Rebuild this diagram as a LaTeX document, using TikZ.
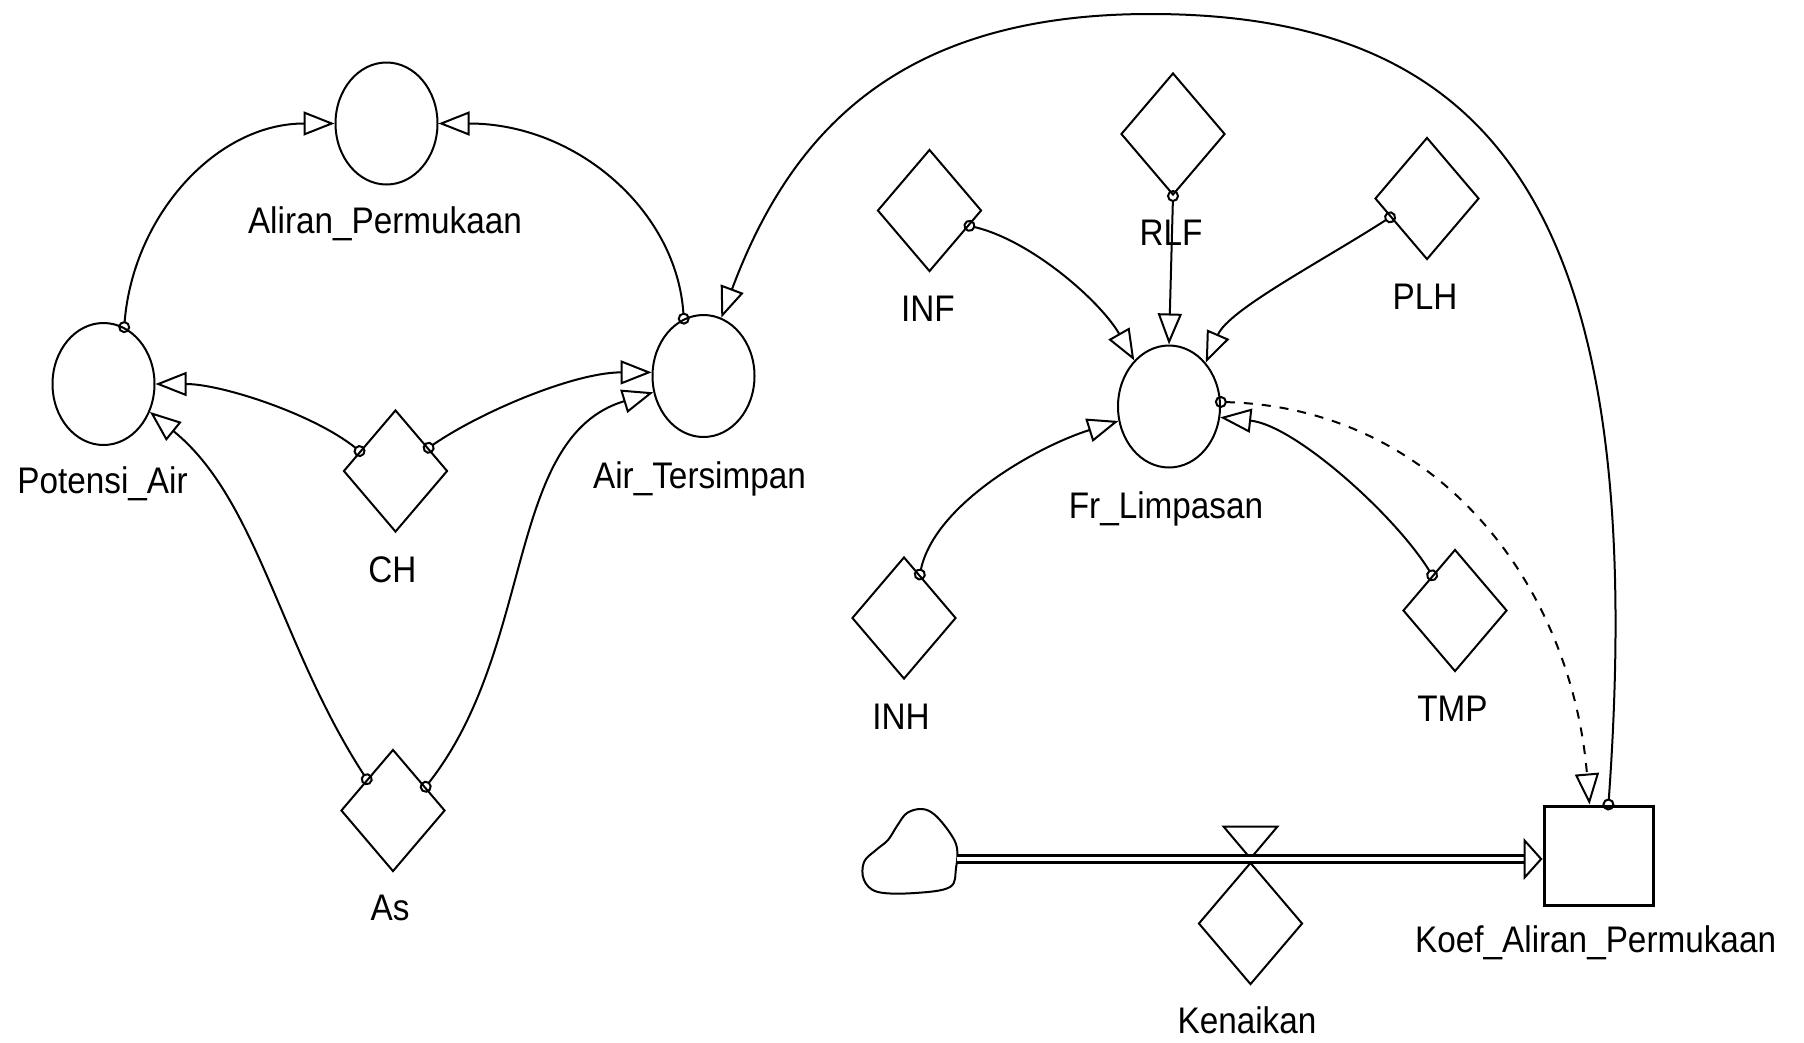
\documentclass[tikz,border=0pt]{standalone}
\usepackage{fontspec}
\setmainfont{Liberation Sans}[FakeStretch=0.9]
\usetikzlibrary{shapes.geometric,arrows.meta}
\begin{document}
\begin{tikzpicture} [x=1pt,y=1pt,font=\fontsize{37}{44}\selectfont,
		auxvar/.style={draw,ellipse,line width=2pt,inner sep=0pt,minimum width=102pt,minimum height=122pt},
		constvar/.style={draw,diamond,line width=2pt,inner sep=0pt,minimum width=104pt,minimum height=122pt},
		stockbox/.style={draw,line width=3pt,inner sep=0pt,minimum width=109pt,minimum height=99pt},
		lbl/.style={anchor=base,inner sep=0pt},
		link/.style={line width=2pt,shorten <=-6pt,{Circle[open,length=12pt,width=12pt]}-{Triangle[open,length=31pt,width=24pt]}},
		dlink/.style={link,dash pattern=on 9pt off 9pt},
		pipe/.style={double,line width=3pt,double distance=4pt,-{Triangle[open,length=19pt,width=42pt,line width=2pt]}}]
		\useasboundingbox (0,0) rectangle (1804,-1042);
		% variabel
		\node [auxvar] (ali) at (386.5,-123.5) {};
		\node [auxvar] (pot) at (103.5,-384) {};
		\node [auxvar] (air) at (703.5,-376) {};
		\node [auxvar] (fr) at (1169,-406.5) {};
		\node [constvar] (ch) at (395.5,-471) {};
		\node [constvar] (as) at (393,-810.5) {};
		\node [constvar] (inf) at (929.5,-210.5) {};
		\node [constvar] (rlf) at (1173,-134) {};
		\node [constvar] (plh) at (1427,-198.5) {};
		\node [constvar] (inh) at (904,-618) {};
		\node [constvar] (tmp) at (1455,-610.5) {};
		\node [constvar] (ken) at (1250.5,-923.5) {};
		\node [stockbox] (koef) at (1598.5,-855.5) {};
		% label
		\node [lbl] (tAli) at (385,-233) {Aliran\_Permukaan};
		\node [lbl] (tPot) at (102.5,-493) {Potensi\_Air};
		\node [lbl] (tAir) at (699.5,-488) {Air\_Tersimpan};
		\node [lbl] (tCh) at (392.5,-582) {CH};
		\node [lbl] (tAs) at (390,-920) {As};
		\node [lbl] (tInf) at (928,-321) {INF};
		\node [lbl] (tRlf) at (1171,-245) {RLF};
		\node [lbl] (tPlh) at (1425,-309) {PLH};
		\node [lbl] (tFr) at (1166,-518) {Fr\_Limpasan};
		\node [lbl] (tInh) at (901,-729) {INH};
		\node [lbl] (tTmp) at (1452.5,-721) {TMP};
		\node [lbl] (tKen) at (1247,-1033) {Kenaikan};
		\node [lbl] (tKoef) at (1595.6,-952) {Koef\_Aliran\_Permukaan};
		% awan dan katup
		\draw [line width=2pt] plot [smooth cycle,tension=0.6] coordinates {(907,-813) (922,-809) (935,-815) (950,-833) (957,-848) (956,-868) (950,-887) (915,-893) (878,-892) (864,-880) (864,-862) (876,-850) (888,-840) (897,-826)};
		\coordinate (src) at (957,-859);
		\draw [line width=2pt] (ken.north) ++(0,3) -- ++(-27,32) -- ++(54,0) -- cycle;
		\draw [pipe] (src) -- (src -| koef.west);
		% hubungan
		\draw [link] (pot.70) .. controls +(9,112) and +(-118,0) .. (ali.west);
		\draw [link] (air.109) .. controls +(-7,108) and +(138,0) .. (ali.east);
		\draw [link] (ch.151) .. controls +(-46,37) and +(66,0) .. (pot.east);
		\draw [link] (ch.35) .. controls +(52,36) and +(-77,0) .. (air.176);
		\draw [link] (as.130) .. controls +(-87,134) and +(108,-88) .. (pot.-31);
		\draw [link] (as.36) .. controls +(110,140) and +(-148,-45) .. (air.198);
		\coordinate (arcTop) at (1150,-14);
		\draw [link] (koef.79) .. controls +(42,587) and +(350,0) .. (arcTop) .. controls +(-250,0) and +(70,187) .. (air.73);
		\draw [link] (inf.-21) .. controls +(63,-15) and +(-33,58) .. (fr.127);
		\draw [link] (rlf.south) -- (fr.north);
		\draw [link] (plh.207) .. controls +(-70,-45) and +(23,53) .. (fr.50);
		\draw [link] (inh.70) .. controls +(15,71) and +(-80,-25) .. (fr.196);
		\draw [link] (tmp.123) .. controls +(-37,60) and +(75,-8) .. (fr.-12);
		\draw [dlink] (fr.5) .. controls +(220,-6) and +(-18,216) .. (koef.100);
	\end{tikzpicture}
\end{document}
